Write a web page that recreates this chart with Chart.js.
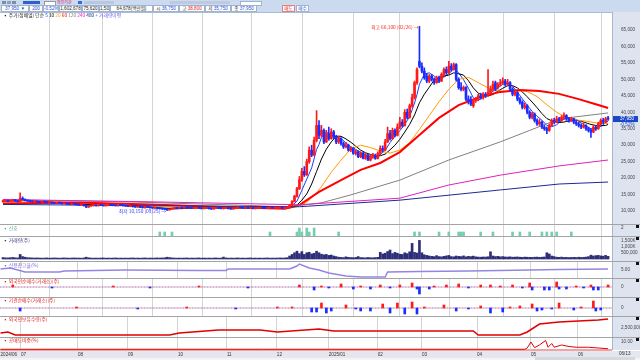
<!DOCTYPE html>
<html>
<head>
<meta charset="utf-8">
<script src="https://cdn.jsdelivr.net/npm/chart.js@4"></script>
<style>
body { margin:0; width:640px; height:360px; overflow:hidden; background:#fff; position:relative;
       font-family:"Noto Sans CJK KR","Noto Sans",sans-serif; }
.a { position:absolute; white-space:nowrap; }
canvas { position:absolute; left:0; }
.box { position:absolute; top:5px; height:5px; background:#fff; border:1px solid #9fb3cf; font:4.6px/5px "Liberation Sans","Noto Sans CJK KR"; color:#222; text-align:center; overflow:hidden; }
.lbl { position:absolute; left:3px; font:4.8px/6px "Noto Sans CJK KR"; z-index:5; }
.sep { position:absolute; left:0; width:640px; height:1px; background:#a4a4a4; z-index:4; }
.sq { position:absolute; left:636px; width:3px; height:3px; background:#111; z-index:5; }
</style>
</head>
<body>
<!-- 상단 툴바 -->
<div class="a" style="left:0;top:0;width:640px;height:12px;background:#cbdaee;border-bottom:1px solid #a9bcd6"></div>
<div class="a" style="left:2px;top:0.5px;width:4px;height:3.5px;background:#7d8fa8"></div>
<div class="a" style="left:7px;top:0.5px;width:4px;height:3.5px;background:#8fa0b8"></div>
<div class="a" style="left:12px;top:0.5px;width:4px;height:3.5px;background:#7d8fa8"></div>
<div class="a" style="left:23px;top:0.5px;width:17px;height:3.5px;background:#2f5fd0"></div>
<div class="a" style="left:44px;top:0.5px;width:10px;height:3.5px;background:#fff;border:1px solid #999"></div>
<div class="a" style="left:57px;top:0px;font:4px/4px 'Noto Sans CJK KR';color:#d0206a">외인기관</div>
<div class="a" style="left:78px;top:0.5px;width:4px;height:3.5px;background:#3a6ad8"></div>
<div class="a" style="left:84px;top:0.5px;width:30px;height:3.5px;background:#b9c8de"></div>
<div class="a" style="left:170px;top:0.5px;width:60px;height:3.5px;background:#bdcbe0"></div>
<div class="a" style="left:240px;top:0.5px;width:20px;height:3.5px;background:#fff;border:1px solid #9fb3cf"></div>
<div class="box" style="left:1px;width:26px;color:#1f4fd0">37,950 ▼</div>
<div class="box" style="left:29px;width:12px;color:#1f4fd0">200</div>
<div class="box" style="left:43px;width:14px;color:#1f4fd0">-0.52%</div>
<div class="box" style="left:59px;width:21px">1,602,678</div>
<div class="box" style="left:82px;width:15px">75,620</div>
<div class="box" style="left:99px;width:9px">1,503</div>
<div class="box" style="left:110px;width:41px">64,678(백만원)</div>
<div class="box" style="left:153px;width:24px">시 <span style="color:#1f4fd0">36,750</span></div>
<div class="box" style="left:179px;width:24px">고 <span style="color:#e02020">38,800</span></div>
<div class="box" style="left:205px;width:24px">저 <span style="color:#1f4fd0">35,750</span></div>
<div class="box" style="left:231px;width:24px">종 <span style="color:#1f4fd0">37,950</span></div>
<div class="box" style="left:282px;width:11px;color:#e02020;border-color:#e08080">매도</div>
<div class="box" style="left:296px;width:11px;color:#1f4fd0">매수</div>

<!-- 오른쪽 축 배경, 하단 날짜줄 -->
<div class="a" style="left:612px;top:12px;width:28px;height:338px;background:#dde4f0;border-left:1px solid #a9b6cc"></div>
<div class="a" style="left:0;top:349px;width:612px;height:2px;background:#f0a4a4"></div>
<div class="a" style="left:0;top:351px;width:640px;height:7px;background:#e6e6ee"></div>
<div class="a" style="left:0;top:358px;width:640px;height:2px;background:#f4f4f4"></div>
<div class="a" style="left:535px;top:357px;width:100px;height:3px;background:#d4d8e0"></div>
<div class="a" style="left:619px;top:351px;font:4.6px/6px 'Liberation Sans';color:#333;z-index:6">06/13</div>

<div id="wrap"></div>

<!-- 패널 구분선 -->
<div class="sep" style="top:224px"></div>
<div class="sep" style="top:236px"></div>
<div class="sep" style="top:261px"></div>
<div class="sep" style="top:278px"></div>
<div class="sep" style="top:297px"></div>
<div class="sep" style="top:316px"></div>
<div class="sep" style="top:337px"></div>
<div class="sq" style="top:225px"></div><div class="sq" style="top:237px"></div>
<div class="sq" style="top:262px"></div><div class="sq" style="top:279px"></div>
<div class="sq" style="top:298px"></div><div class="sq" style="top:317px"></div>
<div class="sq" style="top:338px"></div>

<!-- 패널 제목 -->
<div class="lbl" style="top:12px;color:#222">▪ 주가(정배열) 단순 <span style="color:#1a3cff">5</span> <span style="color:#000">10</span> <span style="color:#ff9a00">20</span> <span style="color:#ff0000">60</span> <span style="color:#808080">120</span> <span style="color:#e020c0">240</span> <span style="color:#1a2a90">480</span> <span style="color:#6a5ae0">+ 거래량이평</span></div>
<div class="lbl" style="top:225px;color:#52a88c">▪ 신호</div>
<div class="lbl" style="top:237px;color:#303080">▪ 거래량(주)</div>
<div class="lbl" style="top:262px;color:#7a6ad8">▪ 신용잔고율(%)</div>
<div class="lbl" style="top:278px;color:#e02020">▪ 외국인순매수(거래소)(주)</div>
<div class="lbl" style="top:297px;color:#e02020">▪ 기관순매수(거래소)(주)</div>
<div class="lbl" style="top:316px;color:#e02020">▪ 외국인보유수량(주)</div>
<div class="lbl" style="top:337px;color:#e02020">▪ 공매도비중(%)</div>

<script>
// 일봉 시세 (단위: 천원), 2024/06 ~ 2025/06/13
var opens = [12.8,13.0,13.2,12.9,13.1,13.4,13.0,12.9,13.9,13.5,
13.2,13.0,12.9,12.8,12.9,12.7,12.6,12.8,12.7,12.5,
12.6,12.4,12.3,12.5,12.4,12.2,12.3,12.1,12.0,12.2,
12.1,11.9,11.8,11.9,11.6,11.2,11.5,11.6,11.7,11.6,
11.8,11.7,11.6,11.7,11.9,11.8,11.7,11.6,11.8,11.7,
11.6,11.5,11.4,11.5,11.3,11.2,11.3,11.1,11.0,11.2,
11.1,11.0,10.9,11.0,10.8,10.7,10.6,10.5,10.3,10.6,
10.8,10.9,10.8,11.0,10.9,11.1,11.0,10.9,10.8,10.9,
11.0,10.8,10.7,10.8,10.9,10.7,10.6,10.8,10.9,10.8,
10.7,10.8,10.9,10.7,10.6,10.8,10.9,11.1,11.0,10.9,
11.0,10.8,10.9,10.7,10.8,10.9,11.0,10.9,10.8,10.9,
11.0,10.9,10.9,10.9,11.0,10.8,10.9,11.1,11.8,12.9,
14.5,16.8,19.5,22.0,21.0,25.0,28.5,27.0,31.5,36.0,
33.0,34.5,31.0,33.5,32.0,34.0,32.5,31.0,32.0,30.5,
29.5,30.0,28.5,29.0,27.5,28.0,26.5,27.5,26.0,27.0,
25.5,26.5,27.0,26.0,27.5,29.0,28.5,31.0,33.5,32.0,
34.5,33.0,35.5,37.0,36.0,40.0,38.5,42.0,44.5,49.0,
55.5,54.0,52.5,51.0,49.5,51.0,50.0,49.0,50.5,49.5,
51.5,53.0,52.0,54.0,53.0,54.5,50.0,47.5,47.0,47.5,
44.0,43.5,42.0,43.5,44.0,45.0,44.5,45.5,45.0,46.0,
47.0,49.0,47.5,48.5,49.0,49.5,48.5,49.0,47.0,45.5,
46.0,44.0,43.0,41.5,42.0,40.0,38.5,39.5,37.5,36.5,
37.0,35.5,35.0,34.5,36.0,37.5,37.0,38.0,37.5,38.5,
39.0,38.0,37.5,38.0,37.0,36.5,36.0,35.5,36.0,35.0,
34.5,34.0,35.5,35.0,36.5,37.5,37.0,38.0];
var highs = [13.3,13.4,13.3,13.2,13.6,13.5,13.1,15.5,14.3,13.7,
13.3,13.1,13.0,13.0,13.0,12.8,12.9,12.9,12.8,12.7,
12.7,12.5,12.6,12.6,12.5,12.4,12.4,12.2,12.3,12.3,
12.2,12.0,12.0,11.9,11.7,11.6,11.7,11.8,11.8,11.9,
11.9,11.8,11.8,12.0,12.0,11.9,11.8,11.9,11.9,11.8,
11.7,11.6,11.6,11.5,11.4,11.4,11.3,11.2,11.3,11.2,
11.2,11.1,11.1,11.0,10.9,10.8,10.7,10.6,10.7,10.9,
11.0,11.0,11.1,11.0,11.2,11.2,11.1,11.0,11.0,11.1,
11.0,10.9,10.9,11.0,10.9,10.8,10.9,11.0,11.0,10.9,
10.9,11.0,10.9,10.8,10.9,11.0,11.3,11.2,11.1,11.1,
11.0,11.0,10.9,10.9,11.0,11.1,11.1,11.0,11.0,11.1,
11.0,11.0,11.0,11.1,11.0,11.0,11.3,12.0,13.2,14.8,
17.2,20.5,23.0,23.5,25.8,29.5,30.0,32.5,40.5,37.5,
36.0,35.0,34.5,35.5,35.0,34.5,33.0,32.8,32.3,31.0,
30.8,30.3,29.5,29.3,28.6,28.3,28.0,27.8,27.5,27.2,
27.0,27.5,27.3,28.0,29.8,29.8,31.8,35.5,34.5,35.2,
35.0,36.5,38.5,37.8,40.8,41.0,42.5,45.5,49.5,53.5,
66.1,55.0,53.5,51.8,51.5,51.5,50.5,51.0,51.0,52.0,
53.5,53.8,55.5,54.8,55.0,54.8,50.5,49.0,48.0,47.8,
45.0,44.8,44.0,44.5,45.5,45.8,46.0,46.0,53.0,48.0,
49.5,49.5,49.0,50.0,50.5,50.0,50.0,49.3,47.5,46.8,
46.3,44.5,43.5,42.8,42.3,40.5,40.0,39.8,38.0,37.8,
37.3,36.0,35.5,36.5,38.0,38.2,38.8,38.5,39.0,39.8,
39.3,38.5,38.5,38.2,37.5,37.0,36.5,36.8,36.3,35.5,
35.0,36.0,36.0,37.0,38.0,38.2,38.5,38.8];
var lows = [12.7,12.9,12.8,12.8,13.0,12.9,12.7,12.8,13.4,13.1,
12.9,12.8,12.7,12.7,12.6,12.5,12.5,12.6,12.4,12.4,
12.3,12.2,12.2,12.3,12.1,12.1,12.0,11.9,11.9,12.0,
11.8,11.7,11.7,11.5,11.0,11.1,11.4,11.5,11.5,11.5,
11.6,11.5,11.5,11.6,11.7,11.6,11.5,11.5,11.6,11.5,
11.4,11.3,11.3,11.2,11.1,11.1,11.0,10.9,10.9,11.0,
10.9,10.8,10.8,10.7,10.6,10.5,10.4,10.15,10.3,10.5,
10.7,10.7,10.7,10.8,10.8,10.9,10.8,10.7,10.7,10.8,
10.7,10.6,10.6,10.7,10.6,10.5,10.5,10.7,10.7,10.6,
10.6,10.7,10.6,10.5,10.5,10.7,10.8,10.9,10.8,10.8,
10.7,10.7,10.6,10.6,10.7,10.8,10.8,10.7,10.7,10.8,
10.8,10.7,10.7,10.8,10.7,10.7,10.8,11.0,11.7,12.8,
14.2,16.5,19.0,20.5,20.8,24.5,26.5,26.8,31.0,32.0,
32.5,30.5,30.8,31.5,31.8,32.0,30.5,30.5,30.0,29.0,
29.2,28.2,28.0,27.2,27.0,26.2,26.2,25.8,25.7,25.3,
25.2,26.0,25.7,25.8,27.2,28.0,28.3,30.8,31.5,31.8,
32.5,32.8,35.0,35.5,35.8,38.0,38.2,41.5,44.0,48.5,
53.5,52.0,50.0,49.0,49.0,49.5,48.5,48.8,49.0,49.3,
51.0,51.5,51.8,52.5,52.8,49.5,47.0,46.5,46.5,43.5,
42.5,42.0,41.5,43.0,43.5,44.0,44.0,44.5,44.8,45.5,
46.5,46.5,47.0,48.0,48.5,48.0,48.0,46.5,45.0,45.0,
43.5,42.5,41.0,41.0,39.5,38.0,38.0,37.0,36.0,36.0,
35.0,34.5,33.5,34.2,35.8,36.5,36.8,37.0,37.2,38.0,
37.5,37.0,37.2,36.5,36.0,35.5,35.0,35.2,34.5,34.0,
32.4,33.8,34.5,34.8,36.2,36.5,36.8,37.5];
var closes = [13.0,13.2,12.9,13.1,13.4,13.0,12.8,13.9,13.5,13.2,
13.0,12.9,12.8,12.9,12.7,12.6,12.8,12.7,12.5,12.6,
12.4,12.3,12.5,12.4,12.2,12.3,12.1,12.0,12.2,12.1,
11.9,11.8,11.9,11.6,11.2,11.5,11.6,11.7,11.6,11.8,
11.7,11.6,11.7,11.9,11.8,11.7,11.6,11.8,11.7,11.6,
11.5,11.4,11.5,11.3,11.2,11.3,11.1,11.0,11.2,11.1,
11.0,10.9,11.0,10.8,10.7,10.6,10.5,10.3,10.6,10.8,
10.9,10.8,11.0,10.9,11.1,11.0,10.9,10.8,10.9,11.0,
10.8,10.7,10.8,10.9,10.7,10.6,10.8,10.9,10.8,10.7,
10.8,10.9,10.7,10.6,10.8,10.9,11.1,11.0,10.9,11.0,
10.8,10.9,10.7,10.8,10.9,11.0,10.9,10.8,10.9,11.0,
10.9,10.9,10.9,11.0,10.8,10.9,11.1,11.8,12.9,14.5,
16.8,19.5,22.0,21.0,25.0,28.5,27.0,31.5,36.0,33.0,
34.5,31.0,33.5,32.0,34.0,32.5,31.0,32.0,30.5,29.5,
30.0,28.5,29.0,27.5,28.0,26.5,27.5,26.0,27.0,25.5,
26.5,27.0,26.0,27.5,29.0,28.5,31.0,33.5,32.0,34.5,
33.0,35.5,37.0,36.0,40.0,38.5,42.0,44.5,49.0,53.0,
54.0,52.5,50.5,49.5,51.0,50.0,49.0,50.5,49.5,51.5,
53.0,52.0,54.0,53.0,54.5,50.0,47.5,47.0,47.5,44.0,
43.5,42.5,43.5,44.0,45.0,44.5,45.5,45.0,46.0,47.0,
48.5,47.0,48.5,49.0,49.5,48.5,49.0,47.0,45.5,46.0,
44.0,43.0,41.5,42.0,40.0,38.5,39.5,37.5,36.5,37.0,
35.5,35.0,34.5,36.0,37.5,37.0,38.0,37.5,38.5,39.0,
38.0,37.5,38.0,37.0,36.5,36.0,35.5,36.0,35.0,34.5,
34.0,35.5,35.0,36.5,37.5,37.0,38.0,37.95];
// 거래량 (천주)
var volumes = [120,100,90,110,130,100,90,380,
200,150,110,100,90,80,90,80,70,80,90,70,80,90,80,70,80,90,80,70,80,90,80,
80,70,90,150,100,80,70,80,70,80,90,70,80,70,80,90,70,80,70,80,
70,80,90,70,80,70,80,90,70,80,70,80,90,80,90,100,150,120,90,80,
70,80,70,80,90,70,80,70,80,90,70,80,70,80,70,80,90,70,80,160,
90,70,80,70,80,90,70,80,70,80,90,70,80,70,80,70,80,90,70,80,70,80,90,80,90,110,
250,380,520,650,450,620,380,520,560,420,480,650,520,400,350,380,300,330,250,200,
150,130,120,180,140,120,110,130,200,120,110,100,130,110,100,120,140,
560,420,480,620,750,450,550,480,400,380,520,450,600,
1300,550,500,1550,520,350,300,
250,220,200,280,200,180,220,260,300,200,180,250,220,200,260,180,220,200,240,180,160,150,170,160,190,
600,
250,200,220,180,200,170,160,180,150,160,170,150,140,160,150,140,130,150,160,140,150,170,
520,420,250,200,
150,140,160,130,140,120,130,140,120,150,130,140,160,200,320,250,280,300,260,240,300,220];

// 이동평균선 [봉 번호, 천원]
var ma5 = [[0,13.0],[10,13.3],[20,12.6],[30,12.1],[40,11.65],[50,11.65],[60,11.1],[67,10.6],[72,10.7],[80,10.9],[90,10.8],[100,10.95],[110,10.9],[116,10.95],
[118,11.6],[120,13.0],[122,16.3],[124,19.7],[126,23.1],[128,28.7],[129,30.2],[130,32.4],[132,34.0],[134,33.0],[136,32.6],[138,32.0],[140,30.7],[142,29.5],[144,28.7],[146,27.8],[148,27.0],[150,26.5],[152,26.4],[154,27.2],[156,28.4],[158,30.8],[160,32.8],[162,34.4],[164,36.3],[166,38.7],[168,42.8],[169,45.4],[170,48.5],[172,51.6],[174,52.0],[176,51.0],[178,50.0],[180,50.7],[182,51.7],[184,53.3],[186,52.0],[188,49.9],[190,47.3],[192,44.4],[194,43.6],[196,44.6],[198,45.2],[200,46.4],[202,47.4],[204,48.5],[206,48.9],[208,47.9],[210,46.1],[212,44.1],[214,42.1],[216,40.3],[218,38.8],[220,37.6],[222,36.0],[224,35.6],[226,36.2],[228,37.5],[230,38.2],[232,38.2],[234,37.8],[236,36.8],[238,35.8],[240,35.0],[242,35.0],[244,35.7],[246,36.8],[247,37.3]];
var ma10 = [[0,13.0],[10,13.2],[20,12.8],[30,12.3],[40,11.7],[50,11.7],[60,11.2],[70,10.7],[80,10.9],[90,10.8],[100,10.9],[110,10.9],[117,10.95],[120,11.8],[122,13.3],[124,15.2],[126,18.2],[128,22.0],[130,25.8],[132,28.8],[134,31.0],[136,32.7],[138,32.7],[140,31.9],[142,30.9],[144,29.7],[146,28.5],[148,27.7],[150,27.2],[152,26.6],[154,26.8],[156,27.3],[158,28.6],[160,30.0],[162,31.8],[164,34.0],[166,36.3],[168,39.2],[170,42.9],[172,45.5],[174,47.6],[176,49.8],[178,50.6],[180,51.0],[182,51.3],[184,52.0],[186,51.7],[188,51.3],[190,49.6],[192,47.4],[194,45.8],[196,45.1],[198,45.0],[200,45.4],[202,46.4],[204,47.3],[206,48.1],[208,48.1],[210,47.4],[212,46.2],[214,44.7],[216,43.1],[218,41.4],[220,39.6],[222,38.1],[224,37.4],[226,37.0],[228,36.9],[230,37.2],[232,37.4],[234,37.6],[236,37.3],[238,36.8],[240,36.3],[242,36.0],[244,35.9],[246,36.0],[247,36.3]];
var ma20 = [[0,13.1],[20,13.0],[40,12.0],[60,11.4],[80,10.8],[100,10.85],[117,10.9],[120,11.3],[124,12.6],[128,15.5],[130,17.4],[134,21.8],[138,25.5],[142,28.9],[146,30.0],[150,29.3],[154,28.2],[158,27.6],[162,28.5],[166,30.8],[170,34.8],[174,39.0],[178,43.2],[182,47.0],[186,50.0],[190,50.6],[194,49.0],[198,47.4],[202,46.5],[206,46.3],[210,46.6],[214,46.3],[218,44.8],[222,42.3],[226,40.0],[230,38.5],[234,37.7],[238,37.3],[242,36.8],[247,36.6]];
var ma60 = [[0,12.3],[30,12.6],[60,12.0],[90,11.2],[115,10.7],[121,11.8],[129,15.8],[138,19.4],[146,22.5],[154,24.6],[162,27.9],[170,33.1],[178,38.3],[186,42.2],[195,44.7],[203,46.2],[211,46.8],[219,46.5],[227,45.6],[235,44.0],[243,42.2],[247,41.3]];
var ma120 = [[0,13.4],[50,12.8],[100,11.7],[116,11.2],[130,12.5],[142,14.9],[162,19.4],[182,25.5],[203,31.0],[215,34.5],[227,38.0],[247,39.8]];
var ma240 = [[0,13.5],[60,12.8],[121,11.9],[162,13.9],[182,17.9],[203,20.9],[227,23.7],[247,25.5]];
var ma480 = [[0,12.0],[60,11.6],[121,11.3],[162,13.3],[203,16.4],[227,18.2],[247,18.8]];

// 보조지표
var sigIdx = [64,66,69,109,120,121,122,124,125,127,137,168,170,178,182,186,187,188,195,200,208,211,215,220,222,224,226,232];
var sigVal = [1,1,1,1,1,2,1,2,1,2,1,1,1,1,1,1,1,1,1,1,1,1,1,1,1,1,1,1];
var creditRate = [[-1,5.5],[3,6.0],[9,4.0],[23,4.0],[25,4.5],[50,5.0],[80,4.8],[91,4.8],[92,5.5],[117,5.5],[120,7.0],[121,8.0],[125,6.0],[129,5.0],[133,3.5],[140,2.0],[146,1.5],[156,1.5],[157,4.0],[170,4.2],[190,4.5],[215,5.0],[227,5.3],[247,5.5]];
var frgIdx = [4,20,45,60,80,100,121,127,130,133,138,143,146,150,154,158,162,167,169,170,174,176,181,186,190,195,199,203,208,212,215,216,221,223,226,227,230,234,237,240,241,243,247];
var frgVal = [2,-1,1,-1,1,-1,2,-3,1,-1,3,-2,1,-2,2,-1,2,4,-2,-7,-2,1,2,3,-1,2,2,1,2,-1,4,-3,-3,-3,5,-2,-2,1,-1,2,-3,-3,2];
var insIdx = [7,30,55,75,95,112,118,126,128,130,132,134,140,144,146,150,155,158,161,164,167,169,172,180,185,190,195,199,204,207,211,216,218,220,224,227,233,236,241,242,244];
var insVal = [-3,1,-1,1,-1,1,1,-4,-4,5,-5,-3,3,-1,-3,-3,4,-5,5,-6,6,-6,1,3,-3,-1,2,-5,-4,1,2,4,-3,-2,-1,5,-2,1,7,-3,-2];
var frgHold = [[-1,2.0],[2,2.1],[5,1.8],[68,1.8],[72,2.0],[88,2.3],[105,2.3],[112,2.1],[129,2.4],[135,2.2],[192,2.2],[194,1.8],[211,1.8],[214,2.1],[219,2.9],[227,3.1],[243,3.3],[247,3.4]];
var shortRatio = [[-1,0.3],[213,0.3],[214,2],[215.5,10],[217,2.5],[219,6],[221.5,12],[222.5,3],[224,8],[225,3],[228,6],[231,4],[234,3],[239,3],[243,2],[247,1]];

// 눈금
var priceTicks = [10,15,20,25,30,35,40,45,50,55,60,65];
var monthPos = [7.35,30.6,51,71.4,91.4,111.8,133,153,171,193.5,215.5,234.7];
var dateTicks = [-1,7.35,30.6,51,71.4,91.4,111.8,133,153,171,193.5,215.5,234.7];
var dateLabels = ['2024/06','07','08','09','10','11','12','2025/01','02','03','04','05','06'];
var HIGH_DATE = '02/26', LOW_DATE = '09/25';

var UP = '#ff1a1a', DOWN = '#1a2cff';
Chart.defaults.font.family = 'Liberation Sans';

function mkCanvas(top, h) {
    var c = document.createElement('canvas');
    c.width = 640; c.height = h;
    c.style.top = top + 'px';
    document.getElementById('wrap').appendChild(c);
    return c;
}

function xAxis(withLabels) {
    var pos = withLabels ? dateTicks : monthPos;
    return {
        type: 'linear', min: -1.22, max: 248.6, offset: false,
        afterBuildTicks: function (s) { s.ticks = pos.map(function (v) { return { value: v }; }); },
        afterFit: function (s) { s.height = withLabels ? 8 : 0; s.paddingLeft = 0; s.paddingRight = 0; },
        ticks: withLabels ? {
            display: true, autoSkip: false, maxRotation: 0, align: 'start', padding: 2,
            font: { size: 4.6 }, color: '#333',
            callback: function (v, i) { return dateLabels[i]; }
        } : { display: false },
        grid: {
            drawTicks: false, lineWidth: 1,
            color: function (ctx) { return (withLabels && ctx.index === 0) ? 'rgba(0,0,0,0)' : '#d4d4d4'; }
        },
        border: { display: false }
    };
}

function yAxis(min, max, ticks, fmt) {
    return {
        position: 'right', min: min, max: max,
        afterBuildTicks: function (s) { s.ticks = ticks.map(function (v) { return { value: v }; }); },
        afterFit: function (s) { s.width = 28; s.paddingTop = 0; s.paddingBottom = 0; },
        ticks: { callback: fmt, padding: 9, autoSkip: false, font: { size: 4.6 }, color: '#444' },
        grid: { display: false, drawTicks: false },
        border: { display: false }
    };
}

function opts(x, y) {
    return {
        responsive: false, animation: false, events: [],
        layout: { padding: 0 },
        plugins: { legend: { display: false }, tooltip: { enabled: false } },
        scales: { x: x, y: y }
    };
}

function line(pts, color, w, order) {
    return {
        type: 'line', data: pts.map(function (p) { return { x: p[0], y: p[1] }; }),
        borderColor: color, borderWidth: w, pointRadius: 0, tension: 0, order: order
    };
}

function bars(idx, val, colorFn, thick) {
    return {
        type: 'bar', grouped: false, barThickness: thick,
        data: idx.map(function (v, k) { return { x: v, y: val[k] }; }),
        backgroundColor: val.map(colorFn)
    };
}

var won = function (v) { return Math.round(v * 1000).toLocaleString('en-US'); };

// 최고/최저 표시와 현재가 박스
var marks = {
    id: 'marks',
    afterDraw: function (chart) {
        var ctx = chart.ctx, x = chart.scales.x, y = chart.scales.y;
        var hi = highs.indexOf(Math.max.apply(null, highs));
        var lo = lows.indexOf(Math.min.apply(null, lows));
        ctx.save();
        ctx.font = '4.8px "Noto Sans CJK KR"';
        ctx.textBaseline = 'middle';
        ctx.textAlign = 'right';
        ctx.fillStyle = '#ff2020';
        ctx.fillText('최고 ' + won(highs[hi]) + ' (' + HIGH_DATE + ') →', x.getPixelForValue(hi) - 1, y.getPixelForValue(highs[hi]) + 1);
        ctx.fillStyle = '#2a3cff';
        ctx.fillText('최저 ' + won(lows[lo]) + ' (' + LOW_DATE + ') →', x.getPixelForValue(lo) - 1, y.getPixelForValue(lows[lo]) + 1);
        var last = closes[closes.length - 1];
        var py = y.getPixelForValue(last);
        ctx.fillStyle = '#1c46c8';
        ctx.fillRect(613, py - 3, 25, 6);
        ctx.fillStyle = '#fff';
        ctx.textAlign = 'left';
        ctx.font = '4.6px "Liberation Sans"';
        ctx.fillText(won(last), 620, py);
        ctx.fillStyle = '#1c46c8';
        ctx.fillText('-0.52%', 620, py + 5.5);
        ctx.restore();
    }
};

// 가격 차트
var candleColor = closes.map(function (c, i) { return c >= opens[i] ? UP : DOWN; });
new Chart(mkCanvas(13, 212), {
    type: 'bar',
    data: {
        datasets: [
            { data: closes.map(function (c, i) { return { x: i, y: [opens[i], c] }; }),
              backgroundColor: candleColor, barThickness: 2, grouped: false, minBarLength: 1, order: 0 },
            { data: highs.map(function (h, i) { return { x: i, y: [lows[i], h] }; }),
              backgroundColor: candleColor, barThickness: 1, grouped: false, order: 1 },
            line(ma480, '#1a2a90', 1, 2),
            line(ma240, '#e020c0', 1, 3),
            line(ma120, '#808080', 1, 4),
            line(ma60, '#ff0000', 2, 5),
            line(ma20, '#ff9a00', 1, 6),
            line(ma10, '#000000', 1, 7),
            line(ma5, '#1a3cff', 1, 8)
        ]
    },
    options: opts(xAxis(false), yAxis(5.75, 70.17, priceTicks, won)),
    plugins: [marks]
});

// 신호
new Chart(mkCanvas(225, 11), {
    type: 'bar',
    data: { datasets: [bars(sigIdx, sigVal, function () { return '#78cdb0'; }, 2)] },
    options: opts(xAxis(false), yAxis(0, 2.75, [2], function (v) { return String(v); }))
});

// 거래량
new Chart(mkCanvas(237, 23), {
    type: 'bar',
    data: { datasets: [{ type: 'bar', grouped: false, barThickness: 2, backgroundColor: '#2e2e78',
        data: volumes.map(function (v, i) { return { x: i, y: v }; }) }] },
    options: opts(xAxis(false), yAxis(-83, 1833, [500, 1000, 1500],
        function (v) { return v >= 1000 ? v.toLocaleString('en-US') + 'K' : (v * 1000).toLocaleString('en-US'); }))
});

// 신용잔고율
new Chart(mkCanvas(261, 17), {
    type: 'line',
    data: { datasets: [line(creditRate, '#9585e2', 1.5, 0)] },
    options: opts(xAxis(false), yAxis(1, 9.5, [5], function (v) { return v.toFixed(2); }))
});

// 외국인/기관 순매수
function netPanel(top, h, idx, val, min, max) {
    var zero = [[-1.22, 0], [248.6, 0]];
    var z1 = line(zero, '#5a8cff', 1, 2); z1.borderDash = [1, 2];
    var z2 = line(zero, '#ff4040', 1, 3); z2.borderDash = [1, 2]; z2.borderDashOffset = 1.5;
    new Chart(mkCanvas(top, h), {
        type: 'bar',
        data: { datasets: [bars(idx, val, function (v) { return v >= 0 ? UP : DOWN; }, 2), z1, z2] },
        options: opts(xAxis(false), yAxis(min, max, [0], function () { return '0'; }))
    });
}
netPanel(278, 19, frgIdx, frgVal, -10, 9);
netPanel(297, 19, insIdx, insVal, -8, 11);

// 외국인 보유수량
new Chart(mkCanvas(316, 21), {
    type: 'line',
    data: { datasets: [line(frgHold, '#e00000', 1.5, 0)] },
    options: opts(xAxis(false), yAxis(1.6, 3.7, [2.5], function (v) { return (v * 1e6).toLocaleString('en-US'); }))
});

// 공매도 비중 + 날짜축
new Chart(mkCanvas(337, 21), {
    type: 'line',
    data: { datasets: [line(shortRatio, '#e00000', 1, 0)] },
    options: opts(xAxis(true), yAxis(-0.67, 16.67, [10], function (v) { return v.toFixed(2); }))
});
</script>
</body>
</html>
